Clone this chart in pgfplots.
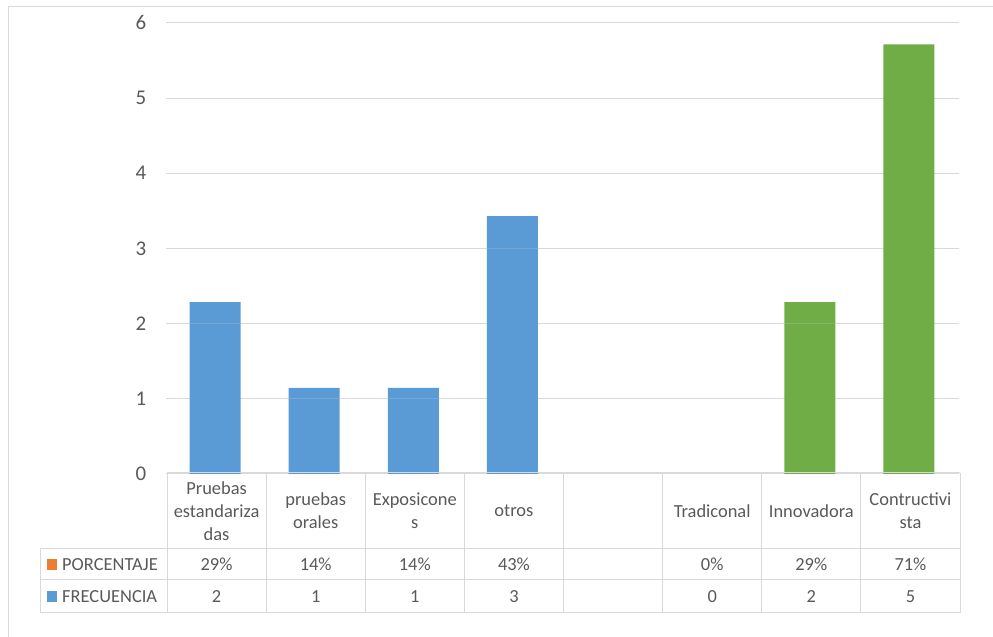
\documentclass[border=0pt]{standalone}
\usepackage{fontspec}
\setmainfont{Carlito}
\usepackage{pgfplots}
\pgfplotsset{compat=1.18}
\definecolor{gridc}{HTML}{D9D9D9}
\definecolor{txt}{HTML}{595959}
\definecolor{azul}{HTML}{5B9BD5}
\definecolor{verde}{HTML}{70AD47}
\definecolor{naranja}{HTML}{ED7D31}
\begin{document}
\begin{tikzpicture}[x=1bp,y=1bp]
\path[use as bounding box] (0,0) rectangle (993,637);
% chart frame
\draw[gridc, line width=1bp] (8,0) -- (8,630) -- (993,630);
\begin{axis}[
  name=ax,
  at={(167,217)}, anchor=south west,
  scale only axis, width=793bp, height=451bp,
  xmin=-0.5, xmax=7.5, ymin=0, ymax=6,
  ybar stacked, bar width=51bp,
  axis line style={draw=none},
  xtick=\empty,
  ytick={0,1,...,6},
  ymajorgrids, grid style={gridc, line width=1bp},
  major tick length=0pt,
  /pgf/number format/assume math mode=true,
  yticklabel style={font=\fontsize{21}{25}\selectfont, text=txt, anchor=east, inner sep=0pt, xshift=-19bp},
  clip=false,
]
% FRECUENCIA
\addplot[fill=azul, draw=none] coordinates {(0,2) (1,1) (2,1) (3,3) (4,0) (5,0) (6,0) (7,0)};
\addplot[fill=verde, draw=none] coordinates {(0,0) (1,0) (2,0) (3,0) (4,0) (5,0) (6,2) (7,5)};
% PORCENTAJE
\addplot[fill=azul, draw=none] coordinates {(0,0.286) (1,0.143) (2,0.143) (3,0.429) (4,0) (5,0) (6,0) (7,0)};
\addplot[fill=verde, draw=none] coordinates {(0,0) (1,0) (2,0) (3,0) (4,0) (5,0) (6,0.286) (7,0.714)};
\end{axis}
% data table
\begin{scope}[gridc, line width=1bp]
\draw (167,164) -- (960,164);
\draw (40,88) -- (960,88);
\draw (40,57) -- (960,57);
\draw (40,24) -- (960,24);
\draw (40,88) -- (40,24);
\foreach \k in {0,...,8} {
  \draw ({167+99.125*\k},164) -- ({167+99.125*\k},24);
}
\end{scope}
\begin{scope}[every node/.style={text=txt, font=\fontsize{18.5}{23}\selectfont, align=center, inner sep=0pt}]
\foreach \lab [count=\i from 0] in {{Pruebas\\estandariza\\das}, {pruebas\\orales}, {Exposicone\\s}, {otros}, {}, {Tradiconal}, {Innovadora}, {Contructivi\\sta}} {
  \node at ({167+99.125*(\i+0.5)},126) {\lab};
}
\foreach \lab [count=\i from 0] in {29\%, 14\%, 14\%, 43\%, {}, 0\%, 29\%, 71\%} {
  \node at ({167+99.125*(\i+0.5)},72.5) {\lab};
}
\foreach \lab [count=\i from 0] in {2, 1, 1, 3, {}, 0, 2, 5} {
  \node at ({167+99.125*(\i+0.5)},40.5) {\lab};
}
\fill[naranja] (47,67) rectangle (57,78);
\node[anchor=west] at (62,72.5) {PORCENTAJE};
\fill[azul] (47,35) rectangle (57,46);
\node[anchor=west] at (62,40.5) {FRECUENCIA};
\end{scope}
\end{tikzpicture}
\end{document}
